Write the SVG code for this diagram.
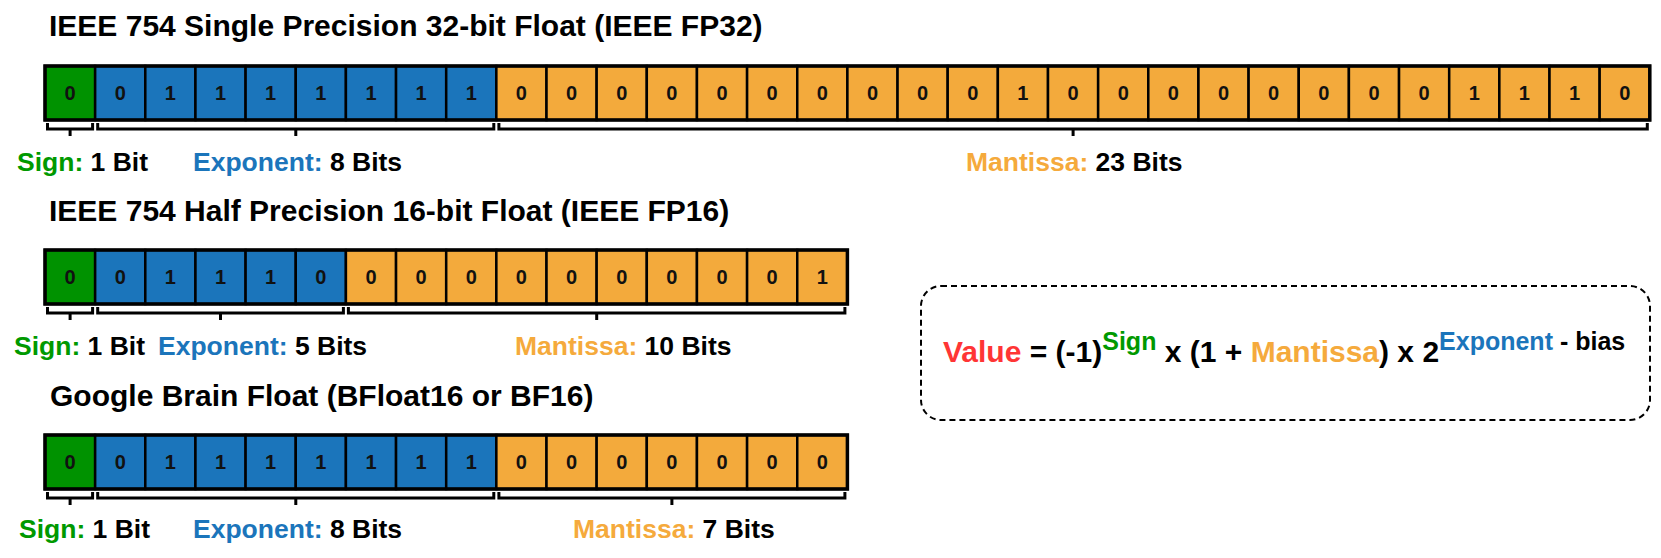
<svg xmlns="http://www.w3.org/2000/svg" width="1661" height="558" viewBox="0 0 1661 558">
<style>
text{font-family:"Liberation Sans",Arial,sans-serif;font-weight:bold;}
.title{font-size:30px;fill:#000;}
.lbl{font-size:26.5px;fill:#000;}
.bit{font-size:20px;fill:#111;text-anchor:middle;}
.s{fill:#009200;stroke:#000;stroke-width:2.5;}
.e{fill:#1b75bb;stroke:#000;stroke-width:2.5;}
.m{fill:#f3aa3c;stroke:#000;stroke-width:2.5;}
.frame{fill:none;stroke:#000;stroke-width:3.5;}
.br{fill:none;stroke:#000;stroke-width:3;}
.cs{fill:#009900;}
.ce{fill:#1b75bb;}
.cm{fill:#f5aa3c;}
.cv{fill:#ff3535;}
.box{fill:none;stroke:#000;stroke-width:2;stroke-dasharray:6 4;}
</style>

<g id="fp32">
<text class="title" x="49" y="36">IEEE 754 Single Precision 32-bit Float (IEEE FP32)</text>
<g id="fp32-sign">
<rect class="s" x="45" y="66" width="50.15" height="54"/>
<text class="bit" x="70.08" y="100.2">0</text>
</g>
<g id="fp32-exponent">
<rect class="e" x="95.15" y="66" width="50.15" height="54"/>
<rect class="e" x="145.3" y="66" width="50.15" height="54"/>
<rect class="e" x="195.45" y="66" width="50.15" height="54"/>
<rect class="e" x="245.6" y="66" width="50.15" height="54"/>
<rect class="e" x="295.75" y="66" width="50.15" height="54"/>
<rect class="e" x="345.9" y="66" width="50.15" height="54"/>
<rect class="e" x="396.05" y="66" width="50.15" height="54"/>
<rect class="e" x="446.2" y="66" width="50.15" height="54"/>
<text class="bit" x="120.23" y="100.2">0</text>
<text class="bit" x="170.38" y="100.2">1</text>
<text class="bit" x="220.53" y="100.2">1</text>
<text class="bit" x="270.68" y="100.2">1</text>
<text class="bit" x="320.83" y="100.2">1</text>
<text class="bit" x="370.98" y="100.2">1</text>
<text class="bit" x="421.13" y="100.2">1</text>
<text class="bit" x="471.28" y="100.2">1</text>
</g>
<g id="fp32-mantissa">
<rect class="m" x="496.35" y="66" width="50.15" height="54"/>
<rect class="m" x="546.5" y="66" width="50.15" height="54"/>
<rect class="m" x="596.65" y="66" width="50.15" height="54"/>
<rect class="m" x="646.8" y="66" width="50.15" height="54"/>
<rect class="m" x="696.95" y="66" width="50.15" height="54"/>
<rect class="m" x="747.1" y="66" width="50.15" height="54"/>
<rect class="m" x="797.25" y="66" width="50.15" height="54"/>
<rect class="m" x="847.4" y="66" width="50.15" height="54"/>
<rect class="m" x="897.55" y="66" width="50.15" height="54"/>
<rect class="m" x="947.7" y="66" width="50.15" height="54"/>
<rect class="m" x="997.85" y="66" width="50.15" height="54"/>
<rect class="m" x="1048" y="66" width="50.15" height="54"/>
<rect class="m" x="1098.15" y="66" width="50.15" height="54"/>
<rect class="m" x="1148.3" y="66" width="50.15" height="54"/>
<rect class="m" x="1198.45" y="66" width="50.15" height="54"/>
<rect class="m" x="1248.6" y="66" width="50.15" height="54"/>
<rect class="m" x="1298.75" y="66" width="50.15" height="54"/>
<rect class="m" x="1348.9" y="66" width="50.15" height="54"/>
<rect class="m" x="1399.05" y="66" width="50.15" height="54"/>
<rect class="m" x="1449.2" y="66" width="50.15" height="54"/>
<rect class="m" x="1499.35" y="66" width="50.15" height="54"/>
<rect class="m" x="1549.5" y="66" width="50.15" height="54"/>
<rect class="m" x="1599.65" y="66" width="50.15" height="54"/>
<text class="bit" x="521.43" y="100.2">0</text>
<text class="bit" x="571.58" y="100.2">0</text>
<text class="bit" x="621.73" y="100.2">0</text>
<text class="bit" x="671.88" y="100.2">0</text>
<text class="bit" x="722.03" y="100.2">0</text>
<text class="bit" x="772.18" y="100.2">0</text>
<text class="bit" x="822.33" y="100.2">0</text>
<text class="bit" x="872.48" y="100.2">0</text>
<text class="bit" x="922.63" y="100.2">0</text>
<text class="bit" x="972.78" y="100.2">0</text>
<text class="bit" x="1022.93" y="100.2">1</text>
<text class="bit" x="1073.08" y="100.2">0</text>
<text class="bit" x="1123.23" y="100.2">0</text>
<text class="bit" x="1173.38" y="100.2">0</text>
<text class="bit" x="1223.53" y="100.2">0</text>
<text class="bit" x="1273.68" y="100.2">0</text>
<text class="bit" x="1323.83" y="100.2">0</text>
<text class="bit" x="1373.98" y="100.2">0</text>
<text class="bit" x="1424.13" y="100.2">0</text>
<text class="bit" x="1474.28" y="100.2">1</text>
<text class="bit" x="1524.43" y="100.2">1</text>
<text class="bit" x="1574.58" y="100.2">1</text>
<text class="bit" x="1624.73" y="100.2">0</text>
</g>
<rect class="frame" x="45" y="66" width="1604.8" height="54"/>
<text class="lbl" x="17" y="171">
<tspan class="cs">Sign:</tspan> 1 Bit</text>
<text class="lbl" x="193" y="171"><tspan class="ce">Exponent:</tspan> 8 Bits</text>
<text class="lbl" x="966" y="171"><tspan class="cm">Mantissa:</tspan> 23 Bits</text>
</g>

<g id="fp16">
<text class="title" x="49" y="220.7">IEEE 754 Half Precision 16-bit Float (IEEE FP16)</text>
<g id="fp16-sign">
<rect class="s" x="45" y="250" width="50.15" height="54"/>
<text class="bit" x="70.08" y="284.2">0</text>
</g>
<g id="fp16-exponent">
<rect class="e" x="95.15" y="250" width="50.15" height="54"/>
<rect class="e" x="145.3" y="250" width="50.15" height="54"/>
<rect class="e" x="195.45" y="250" width="50.15" height="54"/>
<rect class="e" x="245.6" y="250" width="50.15" height="54"/>
<rect class="e" x="295.75" y="250" width="50.15" height="54"/>
<text class="bit" x="120.23" y="284.2">0</text>
<text class="bit" x="170.38" y="284.2">1</text>
<text class="bit" x="220.53" y="284.2">1</text>
<text class="bit" x="270.68" y="284.2">1</text>
<text class="bit" x="320.83" y="284.2">0</text>
</g>
<g id="fp16-mantissa">
<rect class="m" x="345.9" y="250" width="50.15" height="54"/>
<rect class="m" x="396.05" y="250" width="50.15" height="54"/>
<rect class="m" x="446.2" y="250" width="50.15" height="54"/>
<rect class="m" x="496.35" y="250" width="50.15" height="54"/>
<rect class="m" x="546.5" y="250" width="50.15" height="54"/>
<rect class="m" x="596.65" y="250" width="50.15" height="54"/>
<rect class="m" x="646.8" y="250" width="50.15" height="54"/>
<rect class="m" x="696.95" y="250" width="50.15" height="54"/>
<rect class="m" x="747.1" y="250" width="50.15" height="54"/>
<rect class="m" x="797.25" y="250" width="50.15" height="54"/>
<text class="bit" x="370.98" y="284.2">0</text>
<text class="bit" x="421.13" y="284.2">0</text>
<text class="bit" x="471.28" y="284.2">0</text>
<text class="bit" x="521.43" y="284.2">0</text>
<text class="bit" x="571.58" y="284.2">0</text>
<text class="bit" x="621.73" y="284.2">0</text>
<text class="bit" x="671.88" y="284.2">0</text>
<text class="bit" x="722.03" y="284.2">0</text>
<text class="bit" x="772.18" y="284.2">0</text>
<text class="bit" x="822.33" y="284.2">1</text>
</g>
<rect class="frame" x="45" y="250" width="802.4" height="54"/>
<text class="lbl" x="14" y="354.5"><tspan class="cs">Sign:</tspan> 1 Bit</text>
<text class="lbl" x="158" y="354.5"><tspan class="ce">Exponent:</tspan> 5 Bits</text>
<text class="lbl" x="515" y="354.5"><tspan class="cm">Mantissa:</tspan> 10 Bits</text>
</g>

<g id="bf16">
<text class="title" x="50" y="405.5">Google Brain Float (BFloat16 or BF16)</text>
<g id="bf16-sign">
<rect class="s" x="45" y="435" width="50.15" height="54"/>
<text class="bit" x="70.08" y="469.2">0</text>
</g>
<g id="bf16-exponent">
<rect class="e" x="95.15" y="435" width="50.15" height="54"/>
<rect class="e" x="145.3" y="435" width="50.15" height="54"/>
<rect class="e" x="195.45" y="435" width="50.15" height="54"/>
<rect class="e" x="245.6" y="435" width="50.15" height="54"/>
<rect class="e" x="295.75" y="435" width="50.15" height="54"/>
<rect class="e" x="345.9" y="435" width="50.15" height="54"/>
<rect class="e" x="396.05" y="435" width="50.15" height="54"/>
<rect class="e" x="446.2" y="435" width="50.15" height="54"/>
<text class="bit" x="120.23" y="469.2">0</text>
<text class="bit" x="170.38" y="469.2">1</text>
<text class="bit" x="220.53" y="469.2">1</text>
<text class="bit" x="270.68" y="469.2">1</text>
<text class="bit" x="320.83" y="469.2">1</text>
<text class="bit" x="370.98" y="469.2">1</text>
<text class="bit" x="421.13" y="469.2">1</text>
<text class="bit" x="471.28" y="469.2">1</text>
</g>
<g id="bf16-mantissa">
<rect class="m" x="496.35" y="435" width="50.15" height="54"/>
<rect class="m" x="546.5" y="435" width="50.15" height="54"/>
<rect class="m" x="596.65" y="435" width="50.15" height="54"/>
<rect class="m" x="646.8" y="435" width="50.15" height="54"/>
<rect class="m" x="696.95" y="435" width="50.15" height="54"/>
<rect class="m" x="747.1" y="435" width="50.15" height="54"/>
<rect class="m" x="797.25" y="435" width="50.15" height="54"/>
<text class="bit" x="521.43" y="469.2">0</text>
<text class="bit" x="571.58" y="469.2">0</text>
<text class="bit" x="621.73" y="469.2">0</text>
<text class="bit" x="671.88" y="469.2">0</text>
<text class="bit" x="722.03" y="469.2">0</text>
<text class="bit" x="772.18" y="469.2">0</text>
<text class="bit" x="822.33" y="469.2">0</text>
</g>
<rect class="frame" x="45" y="435" width="802.4" height="54"/>
<text class="lbl" x="19" y="538"><tspan class="cs">Sign:</tspan> 1 Bit</text>
<text class="lbl" x="193" y="538"><tspan class="ce">Exponent:</tspan> 8 Bits</text>
<text class="lbl" x="573" y="538"><tspan class="cm">Mantissa:</tspan> 7 Bits</text>
</g>

<g id="brackets">
<path class="br" d="M47.5 123V129H92.6V123M70.1 129V136"/>
<path class="br" d="M97.7 123V129H493.8V123M295.8 129V136"/>
<path class="br" d="M498.9 123V129H1647.3V123M1073.1 129V136"/>
<path class="br" d="M47.5 307V313H92.6V307M70.1 313V320"/>
<path class="br" d="M97.7 307V313H343.4V307M220.5 313V320"/>
<path class="br" d="M348.4 307V313H844.9V307M596.7 313V320"/>
<path class="br" d="M47.5 492V498H92.6V492M70.1 498V505"/>
<path class="br" d="M97.7 492V498H493.8V492M295.8 498V505"/>
<path class="br" d="M498.9 492V498H844.9V492M671.9 498V505"/>
</g>

<g id="formula">
<rect class="box" x="921" y="286" width="729" height="134" rx="20" ry="20"/>
<text x="943" y="362" font-size="30"><tspan class="cv">Value</tspan> = (-1)<tspan class="cs" font-size="25" dy="-12">Sign</tspan><tspan dy="12"> x (1 + </tspan><tspan class="cm">Mantissa</tspan>) x 2<tspan class="ce" font-size="25" dy="-12">Exponent</tspan><tspan font-size="25"> - bias</tspan></text>
</g>
</svg>
